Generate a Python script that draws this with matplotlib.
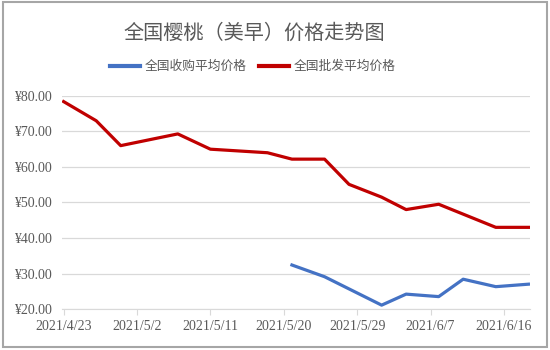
import datetime as dt
import matplotlib
matplotlib.use('Agg')
import matplotlib.pyplot as plt
import matplotlib.dates as mdates
from matplotlib.patches import Rectangle

# ── data ─────────────────────────────────────────────────────────────────────
wholesale_dates = ['2021-04-23', '2021-04-27', '2021-04-30', '2021-05-07', '2021-05-11',
                   '2021-05-18', '2021-05-21', '2021-05-25', '2021-05-28', '2021-06-01',
                   '2021-06-04', '2021-06-08', '2021-06-15', '2021-06-19']
wholesale_price = [78.4, 73.0, 66.0, 69.3, 65.0, 64.0, 62.2, 62.2, 55.1, 51.5,
                   48.0, 49.5, 43.0, 43.0]

purchase_dates = ['2021-05-21', '2021-05-25', '2021-06-01', '2021-06-04', '2021-06-08',
                  '2021-06-11', '2021-06-15', '2021-06-19']
purchase_price = [32.4, 29.1, 21.1, 24.2, 23.5, 28.4, 26.3, 27.0]

tick_start = '2021-04-23'
tick_step_days = 9
n_ticks = 7
y_ticks = [20, 30, 40, 50, 60, 70, 80]

TITLE = '全国樱桃（美早）价格走势图'
LABEL_PURCHASE = '全国收购平均价格'
LABEL_WHOLESALE = '全国批发平均价格'

CJK = ['Noto Sans CJK SC', 'DejaVu Sans']
SERIF = ['Liberation Serif', 'DejaVu Serif']
TXT = '#595959'


def to_dates(lst):
    return [dt.datetime.strptime(s, '%Y-%m-%d') for s in lst]


fig = plt.figure(figsize=(5.5, 3.5), dpi=100)
ax = fig.add_axes([0.1127, 0.117, 0.851, 0.609])

ax.plot(to_dates(purchase_dates), purchase_price, color='#4472C4', lw=2.3,
        label=LABEL_PURCHASE, solid_joinstyle='round')
ax.plot(to_dates(wholesale_dates), wholesale_price, color='#C00000', lw=2.3,
        label=LABEL_WHOLESALE, solid_joinstyle='round')

t0 = dt.datetime.strptime(tick_start, '%Y-%m-%d')
xt = [t0 + dt.timedelta(days=tick_step_days * i) for i in range(n_ticks)]
ax.set_xticks(xt)
ax.set_xticklabels([f'{d.year}/{d.month}/{d.day}' for d in xt])
ax.set_xlim(t0 - dt.timedelta(days=0.2), t0 + dt.timedelta(days=57.2))

ax.set_ylim(20, 80)
ax.set_yticks(y_ticks)
ax.set_yticklabels([f'¥{v:.2f}' for v in y_ticks])

for s in ['top', 'right', 'left']:
    ax.spines[s].set_visible(False)
ax.spines['bottom'].set_color('#d9d9d9')
ax.grid(True, axis='y', color='#d9d9d9', lw=0.9)
ax.set_axisbelow(True)
ax.tick_params(axis='y', length=0, pad=7)
ax.tick_params(axis='x', length=4, color='#d9d9d9', pad=4)
for lbl in ax.get_xticklabels() + ax.get_yticklabels():
    lbl.set_family(SERIF)
    lbl.set_fontsize(10)
    lbl.set_color(TXT)

fig.text(0.462, 0.905, TITLE, ha='center', va='center', fontsize=14.5,
         color=TXT, family=CJK)

leg = fig.legend(loc='center', bbox_to_anchor=(0.46, 0.81), ncol=2, frameon=False,
                 prop={'family': CJK, 'size': 9.2}, handlelength=2.3, columnspacing=1.0,
                 handletextpad=0.4)
for t in leg.get_texts():
    t.set_color(TXT)
for h in leg.legend_handles:
    h.set_linewidth(3)

fig.patches.append(Rectangle((0.006, 0.008), 0.988, 0.985, transform=fig.transFigure,
                             fill=False, edgecolor='#a6a6a6', lw=1.5))

fig.savefig('out.png', dpi=100)
